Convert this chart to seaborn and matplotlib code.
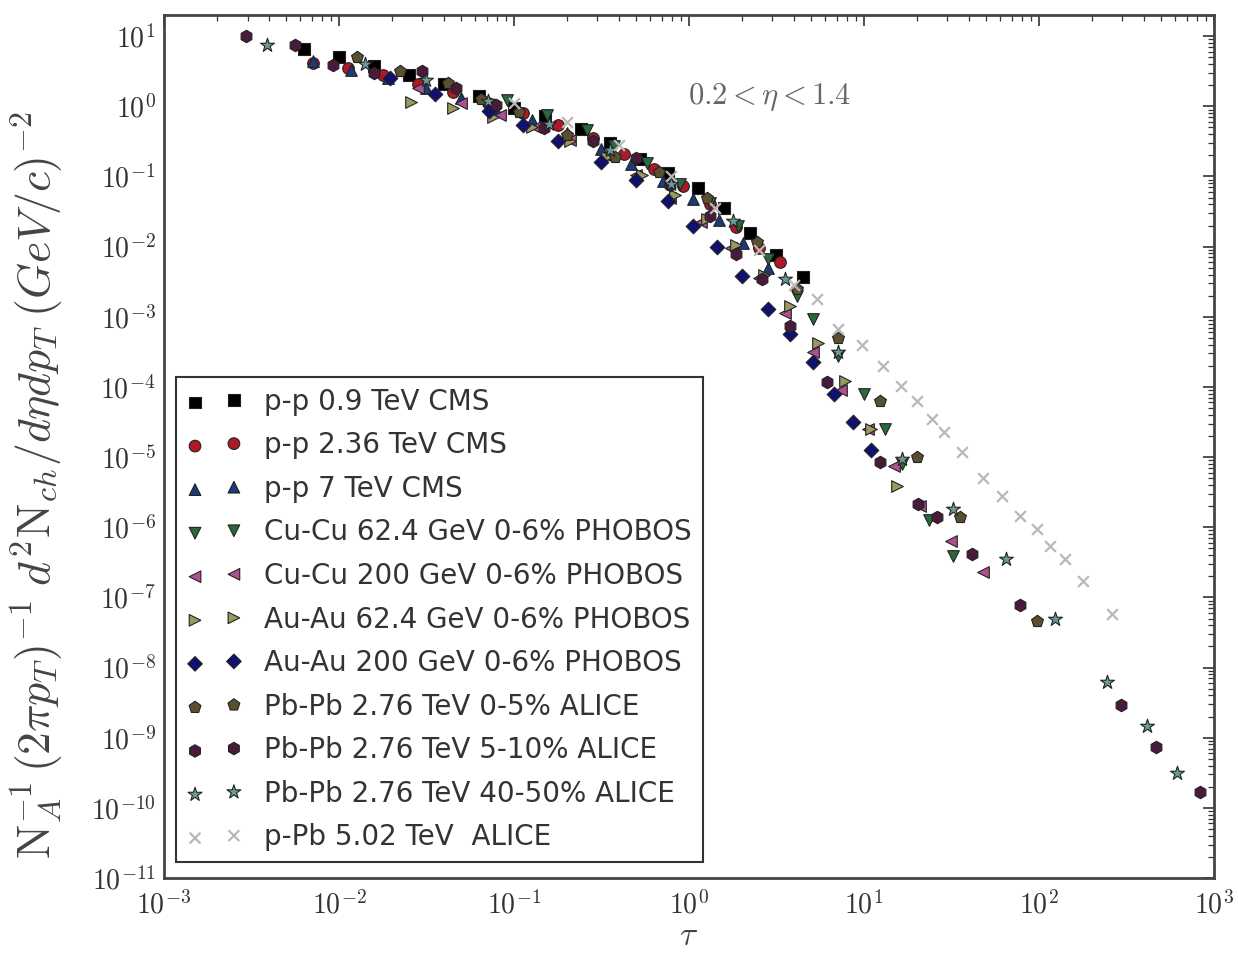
import math
import matplotlib
matplotlib.use("Agg")
import matplotlib.pyplot as plt
import matplotlib.ticker as mticker
import pandas as pd
import seaborn as sns

# ---------------- data ----------------
labels = ["p-p 0.9 TeV CMS", "p-p 2.36 TeV CMS", "p-p 7 TeV CMS",
          "Cu-Cu 62.4 GeV 0-6% PHOBOS", "Cu-Cu 200 GeV 0-6% PHOBOS",
          "Au-Au 62.4 GeV 0-6% PHOBOS", "Au-Au 200 GeV 0-6% PHOBOS",
          "Pb-Pb 2.76 TeV 0-5% ALICE", "Pb-Pb 2.76 TeV 5-10% ALICE",
          "Pb-Pb 2.76 TeV 40-50% ALICE", "p-Pb 5.02 TeV  ALICE"]

pp09_tau = [6.3e-3, 1.0e-2, 1.58e-2, 2.51e-2, 3.98e-2, 6.3e-2, 0.10, 0.151, 0.24, 0.355,
            0.525, 0.76, 1.12, 1.58, 2.24, 3.16, 4.47]
pp09_y = [6.6, 5.0, 3.8, 2.8, 2.1, 1.41, 0.95, 0.72, 0.48, 0.30,
          0.18, 0.112, 0.068, 0.035, 0.0158, 7.6e-3, 3.7e-3]

pp236_tau = [7.1e-3, 1.12e-2, 1.78e-2, 2.82e-2, 4.47e-2, 7.1e-2, 0.112, 0.178, 0.282, 0.427,
             0.63, 0.93, 1.32, 1.86, 2.51, 3.31]
pp236_y = [4.2, 3.5, 2.8, 2.1, 1.58, 1.10, 0.79, 0.54, 0.35, 0.21,
           0.126, 0.072, 0.040, 0.019, 9.5e-3, 6.0e-3]

pp7_tau = [7.1e-3, 1.17e-2, 1.9e-2, 3.16e-2, 5.0e-2, 7.9e-2, 0.126, 0.20, 0.316, 0.468,
           0.71, 1.05, 1.48, 2.04, 2.82]
pp7_y = [4.4, 3.3, 2.5, 1.82, 1.32, 0.89, 0.63, 0.42, 0.25, 0.151,
         0.087, 0.048, 0.024, 0.0112, 5.0e-3]

cucu62_tau = [9.1e-2, 0.155, 0.263, 0.372, 0.575, 0.89, 1.32, 1.91, 2.82, 4.17,
              5.13, 7.08, 10.0, 13.2, 16.6, 23.4, 32.4]
cucu62_y = [1.23, 0.74, 0.457, 0.275, 0.158, 0.079, 0.0417, 0.020, 6.6e-3, 2.0e-3,
            9.3e-4, 2.8e-4, 7.9e-5, 2.5e-5, 7.9e-6, 1.26e-6, 3.9e-7]

cucu200_tau = [2.82e-2, 5.0e-2, 8.3e-2, 0.132, 0.209, 0.331, 0.50, 0.776, 1.17, 1.74,
               2.51, 3.55, 5.13, 7.41, 10.5, 14.8, 20.9, 31.6, 47.9]
cucu200_y = [1.82, 1.12, 0.76, 0.50, 0.331, 0.20, 0.105, 0.050, 0.0224, 9.5e-3,
             3.55e-3, 1.12e-3, 3.16e-4, 8.9e-5, 2.5e-5, 7.4e-6, 2.0e-6, 6.3e-7, 2.3e-7]

auau62_tau = [2.57e-2, 4.47e-2, 7.6e-2, 0.126, 0.209, 0.339, 0.537, 0.83, 1.26, 1.86,
              2.69, 3.8, 5.5, 7.76, 11.0, 15.5]
auau62_y = [1.17, 0.95, 0.71, 0.50, 0.316, 0.19, 0.105, 0.054, 0.0251, 0.0105,
            4.0e-3, 1.41e-3, 4.2e-4, 1.2e-4, 2.5e-5, 3.9e-6]

auau200_tau = [1.95e-2, 3.55e-2, 7.2e-2, 0.112, 0.178, 0.316, 0.50, 0.76, 1.05, 1.45,
               2.0, 2.82, 3.8, 5.13, 6.76, 8.7, 11.0]
auau200_y = [2.5, 1.51, 0.85, 0.54, 0.324, 0.162, 0.089, 0.0447, 0.020, 0.010,
             3.8e-3, 1.29e-3, 5.6e-4, 2.3e-4, 7.9e-5, 3.16e-5, 1.26e-5]

pbpb05_tau = [1.26e-2, 2.24e-2, 4.17e-2, 6.46e-2, 0.107, 0.20, 0.38, 0.676, 1.26, 2.45,
              4.17, 7.08, 12.3, 20.0, 35.5, 97.7]
pbpb05_y = [5.1, 3.16, 2.14, 1.29, 0.83, 0.39, 0.19, 0.117, 0.049, 0.0117,
            2.5e-3, 5.0e-4, 6.3e-5, 1.0e-5, 1.41e-6, 4.6e-8]

pbpb510_tau = [2.95e-3, 5.6e-3, 9.3e-3, 1.58e-2, 3.0e-2, 4.68e-2, 7.9e-2, 0.148, 0.282, 0.50,
               0.776, 1.32, 1.86, 2.63, 3.8, 6.17, 12.3, 20.4, 26.3, 41.7,
               77.6, 295, 468, 832]
pbpb510_y = [10.0, 7.4, 3.9, 3.0, 3.16, 1.82, 1.05, 0.49, 0.316, 0.182,
             0.075, 0.0275, 7.9e-3, 3.5e-3, 7.4e-4, 1.17e-4, 8.5e-6, 2.14e-6, 1.38e-6, 4.1e-7,
             7.9e-8, 2.95e-9, 7.4e-10, 1.7e-10]

pbpb4050_tau = [3.9e-3, 1.41e-2, 3.16e-2, 7.1e-2, 0.158, 0.355, 0.79, 1.78, 3.55, 7.08,
                16.6, 32.4, 64.6, 123, 245, 417, 617]
pbpb4050_y = [7.4, 4.0, 2.4, 1.2, 0.56, 0.24, 0.079, 0.0229, 3.5e-3, 3.16e-4,
              9.3e-6, 1.82e-6, 3.5e-7, 4.9e-8, 6.2e-9, 1.45e-9, 3.16e-10]

ppb_tau = [0.10, 0.20, 0.40, 0.79, 1.41, 2.51, 3.98, 5.37, 7.08, 9.8,
           12.9, 16.2, 20.0, 24.5, 28.8, 36.3, 47.9, 61.7, 77.6, 97.7,
           115, 141, 178, 263]
ppb_y = [1.12, 0.60, 0.28, 0.10, 0.035, 8.9e-3, 2.8e-3, 1.82e-3, 6.8e-4, 3.9e-4,
         2.0e-4, 1.02e-4, 6.2e-5, 3.5e-5, 2.3e-5, 1.17e-5, 5.1e-6, 2.75e-6, 1.45e-6, 9.3e-7,
         5.4e-7, 3.5e-7, 1.7e-7, 5.75e-8]

series_tau = [pp09_tau, pp236_tau, pp7_tau, cucu62_tau, cucu200_tau, auau62_tau,
              auau200_tau, pbpb05_tau, pbpb510_tau, pbpb4050_tau, ppb_tau]
series_y = [pp09_y, pp236_y, pp7_y, cucu62_y, cucu200_y, auau62_y,
            auau200_y, pbpb05_y, pbpb510_y, pbpb4050_y, ppb_y]

markers = ["s", "o", "^", "v", "<", ">", "D", "p", "h", "*", "x"]
colors = ["#000000", "#b01828", "#1a3a7a", "#2a6a3a", "#b05090", "#9a9a60",
          "#101070", "#5a5030", "#4a1a3a", "#6a9a9a", "#b8b8b8"]
sizes = [70, 70, 70, 70, 70, 70, 55, 80, 80, 110, 60]

x_ticks = [1e-3, 1e-2, 1e-1, 1e0, 1e1, 1e2, 1e3]
y_ticks = [10.0 ** k for k in range(-11, 2)]

# ---------------- style ----------------
sns.set_theme(style="white")
plt.rcParams["font.family"] = ["DejaVu Sans"]
plt.rcParams["mathtext.fontset"] = "cm"

fig = plt.figure(figsize=(12.38, 9.58), dpi=100)
ax = fig.add_axes([0.1325, 0.0835, 0.848, 0.9008])
ax.set_xscale("log")
ax.set_yscale("log")

frames = []
for lab, t, y in zip(labels, series_tau, series_y):
    frames.append(pd.DataFrame({"series": lab, "tau": t, "yield": y}))
df = pd.concat(frames, ignore_index=True)

for lab, m, c, s in zip(labels, markers, colors, sizes):
    sub = df[df["series"] == lab]
    kw = dict(marker=m, color=c, s=s, label=lab, ax=ax, zorder=3)
    if m == "x":
        kw["linewidth"] = 1.6
    else:
        kw["edgecolor"] = "#222222"
        kw["linewidth"] = 0.8
    sns.scatterplot(data=sub, x="tau", y="yield", **kw)


def pow10(v, pos):
    return r"$10^{%d}$" % int(round(math.log10(v)))


ax.set_xlim(1e-3, 1e3)
ax.set_ylim(1e-11, 20)
ax.set_xticks(x_ticks)
ax.set_yticks(y_ticks)
ax.xaxis.set_major_formatter(mticker.FuncFormatter(pow10))
ax.yaxis.set_major_formatter(mticker.FuncFormatter(pow10))
ax.xaxis.set_minor_locator(mticker.LogLocator(base=10, subs=range(2, 10), numticks=100))
ax.yaxis.set_minor_locator(mticker.LogLocator(base=10, subs=range(2, 10), numticks=100))
ax.xaxis.set_minor_formatter(mticker.NullFormatter())
ax.yaxis.set_minor_formatter(mticker.NullFormatter())
ax.tick_params(which="both", direction="in", top=True, right=True, colors="#333333",
               labelcolor="#333333")
ax.tick_params(which="major", length=8, width=1.2, labelsize=20)
ax.tick_params(axis="x", which="major", pad=9)
ax.tick_params(axis="y", which="major", pad=6)
ax.tick_params(which="minor", length=4, width=0.9)
for sp in ax.spines.values():
    sp.set_color("#444444")
    sp.set_linewidth(2)

ax.set_xlabel(r"$\tau$", fontsize=24, color="#444444", labelpad=0)
ax.set_ylabel(r"$\mathrm{N}_A^{-1}\,(2\pi p_T)^{-1}\;d^2\mathrm{N}_{ch}/d\eta dp_T\;(GeV/c)^{-2}$",
              fontsize=33, color="#444444")
ax.yaxis.set_label_coords(-0.095, 0.455)

ax.text(0.577, 0.905, r"$0.2<\eta<1.4$", transform=ax.transAxes, ha="center", va="center",
        fontsize=22, color="#666666")

leg = ax.legend(loc="lower left", bbox_to_anchor=(0.011, 0.018), borderaxespad=0,
                scatterpoints=2, fontsize=20, frameon=True, fancybox=False,
                edgecolor="#333333", framealpha=1, handletextpad=0.8, borderpad=0.4,
                labelspacing=0.56)
leg.get_frame().set_linewidth(1.5)
for t in leg.get_texts():
    t.set_color("#333333")

fig.savefig("out.png", dpi=100)
